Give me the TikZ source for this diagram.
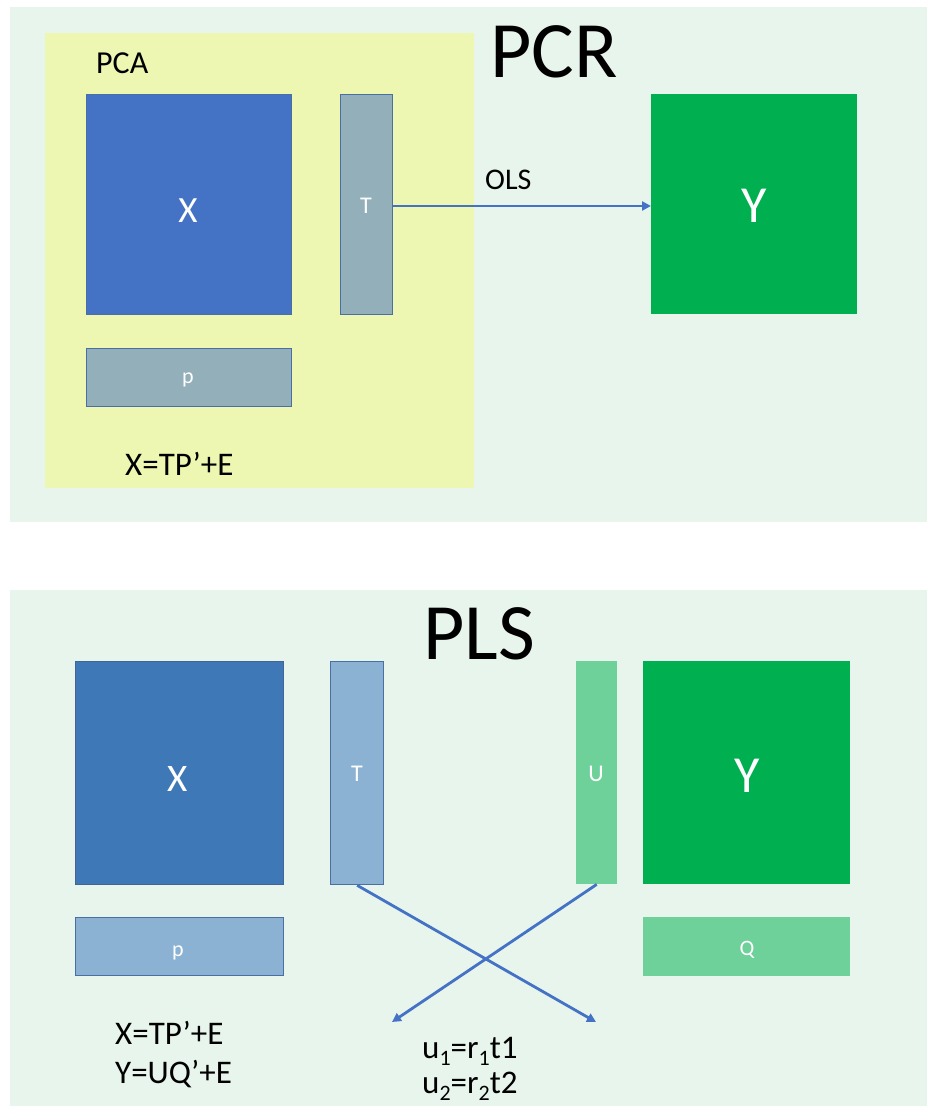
\documentclass[tikz,border=0pt]{standalone}
\usepackage{fontspec}
\setmainfont{Carlito}
\usetikzlibrary{arrows.meta}
\definecolor{panelbg}{HTML}{E8F5EC}
\definecolor{pcabg}{HTML}{EDF7B2}
\definecolor{xblue}{HTML}{4472C4}
\definecolor{xblueb}{HTML}{3E78B7}
\definecolor{greyblue}{HTML}{93AFBA}
\definecolor{lightblue}{HTML}{8CB2D3}
\definecolor{bordblue}{HTML}{4A6FA5}
\definecolor{ygreen}{HTML}{00B050}
\definecolor{lgreen}{HTML}{6ED19A}
\definecolor{arrowblue}{HTML}{4472C4}
\tikzset{
  box/.style={rectangle, inner sep=0pt, anchor=north west},
  bord/.style={draw=bordblue, line width=1.3pt},
  lab/.style={inner sep=0pt, anchor=base, text=white},
  txt/.style={inner sep=0pt, text=black},
  conn/.style={draw=arrowblue, line width=2.8pt, -{Triangle[length=9pt,width=9pt]}}
}
\newcommand{\fs}[1]{\fontsize{#1}{#1}\selectfont}
\newcommand{\sbs}[1]{\raisebox{-0.45ex}{\fontsize{22}{22}\selectfont #1}}
\begin{document}
\begin{tikzpicture}[x=1pt,y=-1pt]
\useasboundingbox (0,0) rectangle (927,1106);
\fill[white] (0,0) rectangle (927,1106);
% panels
\fill[panelbg] (10,7) rectangle (927,522);
\fill[panelbg] (10,590) rectangle (927,1106);
\fill[pcabg] (45,33) rectangle (474,488);

% ---- PCR ----
\node[txt, anchor=base] (pcr) at (554,77) {\fs{80}PCR};
\node[txt, anchor=base west] (pca) at (96,73) {\fs{32}PCA};
\node[box, fill=xblue, bord, minimum width=205pt, minimum height=220pt] (X1) at (86,94) {};
\node[lab] (X1l) at (188,222) {\fs{37}X};
\node[box, fill=greyblue, bord, minimum width=52pt, minimum height=220pt] (T1) at (340,94) {};
\node[lab] (T1l) at (366,213) {\fs{24}T};
\node[box, fill=greyblue, bord, minimum width=205pt, minimum height=58pt] (P1) at (86,348) {};
\node[lab] (P1l) at (188,383) {\fs{22}p};
\node[txt, anchor=base west] (eq1) at (125,475) {\fs{33}X=TP’+E};
\node[box, fill=ygreen, minimum width=206pt, minimum height=220pt] (Y1) at (651,94) {};
\node[lab] (Y1l) at (754,222) {\fs{52}Y};
\node[txt, anchor=base west] (ols) at (485,189) {\fs{30}OLS};
\draw[conn] (T1.east |- 0,206) -- (Y1.west |- 0,206);

% ---- PLS ----
\node[txt, anchor=base] (pls) at (479,659) {\fs{80}PLS};
\node[box, fill=xblueb, draw=bordblue!90!black, line width=1.3pt, minimum width=208pt, minimum height=223pt] (X2) at (75,661) {};
\node[lab] (X2l) at (178,791) {\fs{39}X};
\node[box, fill=lightblue, bord, minimum width=53pt, minimum height=223pt] (T2) at (330,661) {};
\node[lab] (T2l) at (357,781) {\fs{24}T};
\node[box, fill=lightblue, bord, minimum width=208pt, minimum height=58pt] (P2) at (75,917) {};
\node[lab] (P2l) at (178,956) {\fs{22}p};
\node[box, fill=lgreen, minimum width=41pt, minimum height=223pt] (U2) at (576,661) {};
\node[lab] (U2l) at (596,781) {\fs{24}U};
\node[box, fill=ygreen, minimum width=207pt, minimum height=223pt] (Y2) at (643,661) {};
\node[lab] (Y2l) at (747,792) {\fs{52}Y};
\node[box, fill=lgreen, minimum width=207pt, minimum height=59pt] (Q2) at (643,917) {};
\node[lab] (Q2l) at (747,955) {\fs{22}Q};

\coordinate (endT) at (596,1022);
\coordinate (endU) at (392,1022);
\draw[conn] (T2.south) -- (endT);
\draw[conn] (U2.south) -- (endU);

\node[txt, anchor=base west] (eq2) at (115,1044) {\fs{33}X=TP’+E};
\node[txt, anchor=base west] (eq3) at (115,1083) {\fs{33}Y=UQ’+E};
\node[txt, anchor=base west] (eq4) at (422,1058) {\fs{33}u\sbs{1}=r\sbs{1}t1};
\node[txt, anchor=base west] (eq5) at (422,1093) {\fs{33}u\sbs{2}=r\sbs{2}t2};
\end{tikzpicture}
\end{document}
